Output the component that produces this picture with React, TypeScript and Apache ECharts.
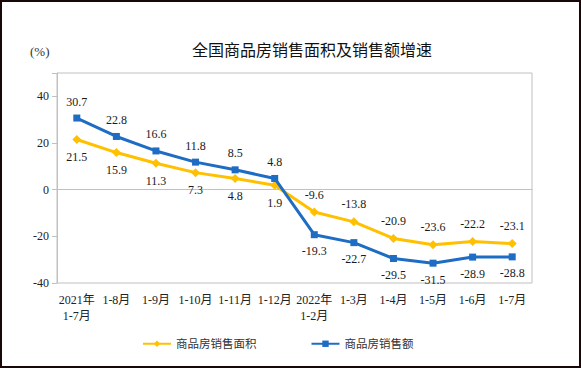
import React, { useEffect, useRef } from "react";
import * as echarts from "echarts";

const categories = [
  "2021年\n1-7月", "1-8月", "1-9月", "1-10月", "1-11月", "1-12月",
  "2022年\n1-2月", "1-3月", "1-4月", "1-5月", "1-6月", "1-7月",
];
const areaGrowth = [21.5, 15.9, 11.3, 7.3, 4.8, 1.9, -9.6, -13.8, -20.9, -23.6, -22.2, -23.1];
const salesGrowth = [30.7, 22.8, 16.6, 11.8, 8.5, 4.8, -19.3, -22.7, -29.5, -31.5, -28.9, -28.8];
const yTicks = [-40, -20, 0, 20, 40];

const FONT = "'Liberation Serif', 'Noto Sans CJK SC', serif";
const YELLOW = "#FFC000";
const BLUE = "#1F6CC4";

export default function App() {
  const ref = useRef<HTMLDivElement>(null);
  useEffect(() => {
    if (!ref.current) return;
    const chart = echarts.init(ref.current, undefined, { renderer: "svg" });
    const labelBase = { show: true, fontSize: 12, color: "#1a1a1a", fontFamily: FONT, distance: 7 };
    chart.setOption({
      animation: false,
      backgroundColor: "#fff",
      title: {
        text: "全国商品房销售面积及销售额增速",
        left: 185,
        top: 34,
        textStyle: { fontSize: 16, fontWeight: "normal", color: "#111", fontFamily: "'Noto Sans CJK SC', sans-serif" },
      },
      graphic: [
        {
          type: "text",
          left: 28,
          top: 43,
          style: { text: "(%)", fontSize: 13, fill: "#333", fontFamily: FONT },
        },
      ],
      legend: {
        top: 331,
        left: 135,
        itemGap: 54,
        itemWidth: 28,
        itemHeight: 8,
        textStyle: { fontSize: 11.5, color: "#333", fontFamily: FONT },
        data: ["商品房销售面积", "商品房销售额"],
      },
      grid: {
        left: 55,
        right: 47,
        top: 71,
        bottom: 83,
        show: true,
        borderColor: "#c0c0c0",
        borderWidth: 1,
      },
      xAxis: {
        type: "category",
        data: categories,
        boundaryGap: true,
        axisLine: { lineStyle: { color: "#c0c0c0" } },
        axisTick: { inside: true, length: 5, lineStyle: { color: "#c0c0c0" } },
        axisLabel: { fontSize: 12, color: "#222", fontFamily: FONT, interval: 0, margin: 9, lineHeight: 16 },
      },
      yAxis: {
        type: "value",
        min: -40,
        max: 50,
        interval: 20,
        splitLine: { show: false },
        axisLine: { show: true, lineStyle: { color: "#c0c0c0" } },
        axisTick: { show: true, length: 5, lineStyle: { color: "#c0c0c0" } },
        axisLabel: {
          fontSize: 12,
          color: "#222",
          fontFamily: FONT,
          margin: 8,
          formatter: (v: number) => (yTicks.includes(v) ? String(v) : ""),
        },
      },
      series: [
        {
          name: "商品房销售面积",
          type: "line",
          data: areaGrowth.map((v, i) => ({
            value: v,
            label: { position: i < 6 ? "bottom" : "top" },
          })),
          symbol: "diamond",
          symbolSize: 9,
          lineStyle: { width: 3, color: YELLOW },
          itemStyle: { color: YELLOW },
          label: { ...labelBase },
          z: 2,
        },
        {
          name: "商品房销售额",
          type: "line",
          data: salesGrowth.map((v, i) => ({
            value: v,
            label: { position: i < 6 ? "top" : "bottom" },
          })),
          symbol: "rect",
          symbolSize: 7,
          lineStyle: { width: 3, color: BLUE },
          itemStyle: { color: BLUE },
          label: { ...labelBase },
          z: 3,
        },
      ],
    });
    return () => chart.dispose();
  }, []);
  return (
    <div
      style={{
        position: "fixed",
        left: 0,
        top: 0,
        width: 581,
        height: 368,
        boxSizing: "border-box",
        border: "2px solid #1a0808",
        background: "#fff",
      }}
    >
      <div ref={ref} style={{ width: 577, height: 364 }} />
    </div>
  );
}
